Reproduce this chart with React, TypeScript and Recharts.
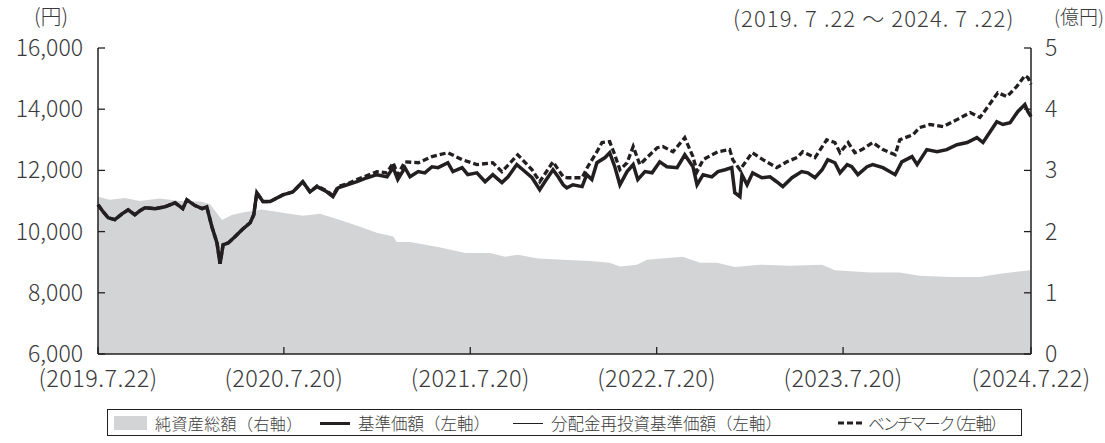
import { Area, ComposedChart, Line, XAxis, YAxis } from "recharts";

const INK = "#231f20";
const TEXT = "#3a3a3a";
const NAV_FILL = "#d3d4d6";
const FONT = "'Noto Sans CJK JP', 'Noto Sans', sans-serif";

// 日数は 2019.7.22 からの経過日数
const xTickDays = [0, 364, 729, 1094, 1459, 1827];
const xTickLabels = ["(2019.7.22)", "(2020.7.20)", "(2021.7.20)", "(2022.7.20)", "(2023.7.20)", "(2024.7.22)"];
const leftTicks = [6000, 8000, 10000, 12000, 14000, 16000];
const rightTicks = [0, 1, 2, 3, 4, 5];

// 基準価額（円）
const fundDays = [
  0, 10, 20, 33, 47, 59, 72, 82, 92, 112, 131, 151, 166, 174, 190, 204, 213, 223, 233, 239, 245, 255, 268, 282, 298,
  305, 311, 323, 337, 362, 382, 401, 415, 429, 448, 460, 470, 488, 507, 527, 546, 566, 578, 587, 601, 611, 627, 640,
  654, 666, 685, 695, 713, 724, 742, 758, 773, 791, 803, 820, 832, 850, 865, 875, 891, 901, 911, 918, 930, 948, 957,
  967, 977, 993, 1002, 1012, 1022, 1036, 1048, 1057, 1071, 1085, 1100, 1114, 1134, 1149, 1165, 1173, 1185, 1202, 1214,
  1228, 1241, 1247, 1257, 1261, 1271, 1282, 1300, 1316, 1329, 1341, 1359, 1378, 1390, 1404, 1418, 1429, 1443, 1453,
  1467, 1476, 1488, 1506, 1517, 1537, 1561, 1574, 1594, 1604, 1623, 1643, 1662, 1682, 1702, 1721, 1733, 1760, 1772,
  1786, 1801, 1815, 1821, 1827,
];
const fundValues = [
  10880, 10650, 10450, 10390, 10580, 10710, 10550, 10680, 10780, 10750, 10810, 10940, 10750, 11040, 10850, 10750, 10810,
  10160, 9630, 8950, 9570, 9630, 9830, 10060, 10290, 10550, 11270, 10980, 10980, 11200, 11300, 11630, 11300, 11470,
  11300, 11140, 11430, 11530, 11630, 11760, 11860, 11790, 12090, 11700, 12090, 11790, 11960, 11920, 12120, 12090, 12250,
  11960, 12090, 11860, 11920, 11630, 11860, 11600, 11790, 12190, 12020, 11760, 11370, 11630, 12020, 11790, 11530, 11430,
  11530, 11470, 11860, 11700, 12250, 12420, 12580, 12120, 11530, 11960, 12190, 11700, 11960, 11920, 12280, 12120, 12090,
  12510, 12120, 11530, 11860, 11790, 11960, 12020, 12090, 11270, 11140, 11860, 11530, 11920, 11760, 11790, 11630, 11470,
  11760, 11960, 11920, 11760, 12020, 12350, 12250, 11920, 12190, 12120, 11860, 12120, 12190, 12090, 11860, 12280, 12450,
  12190, 12680, 12610, 12680, 12840, 12910, 13070, 12910, 13590, 13500, 13560, 13920, 14150, 13920, 13760,
];
// 分配金実績なしのため基準価額と同値
const reinvestValues = fundValues;

// ベンチマーク（円換算）
const benchDays = [
  0, 10, 20, 33, 47, 59, 72, 82, 92, 112, 131, 151, 166, 174, 190, 204, 213, 223, 233, 239, 245, 255, 268, 282, 298,
  305, 311, 323, 337, 362, 382, 401, 415, 429, 448, 460, 470, 488, 507, 527, 546, 566, 578, 587, 601, 627, 654, 685,
  713, 742, 773, 791, 822, 850, 865, 891, 911, 920, 948, 959, 977, 987, 1002, 1012, 1022, 1036, 1048, 1061, 1075, 1095,
  1106, 1126, 1149, 1165, 1173, 1185, 1202, 1214, 1237, 1243, 1257, 1267, 1281, 1302, 1329, 1349, 1369, 1380, 1404,
  1427, 1443, 1453, 1469, 1482, 1496, 1517, 1537, 1561, 1570, 1596, 1609, 1629, 1655, 1682, 1708, 1727, 1743, 1762,
  1780, 1799, 1815, 1821, 1827,
];
const benchValues = [
  10880, 10650, 10450, 10390, 10580, 10710, 10550, 10680, 10780, 10750, 10810, 10940, 10750, 11040, 10850, 10750, 10810,
  10160, 9630, 8950, 9570, 9630, 9830, 10060, 10290, 10550, 11270, 10980, 10980, 11200, 11300, 11630, 11300, 11490,
  11330, 11180, 11470, 11560, 11700, 11830, 11960, 11920, 12250, 11860, 12280, 12250, 12450, 12580, 12350, 12190, 12250,
  11960, 12510, 12020, 11630, 12280, 11790, 11760, 11760, 12120, 12610, 12910, 12940, 12510, 12020, 12250, 12780, 12190,
  12420, 12740, 12780, 12610, 13070, 12450, 11960, 12350, 12510, 12610, 12680, 12350, 12020, 12250, 12580, 12350, 12090,
  12280, 12420, 12610, 12420, 13000, 12910, 12580, 12910, 12580, 12680, 12910, 12680, 12510, 13000, 13170, 13400, 13500,
  13430, 13660, 13890, 13730, 14090, 14540, 14410, 14740, 15100, 15030, 14810,
];

// 純資産総額（億円）
const navDays = [
  0, 23, 53, 82, 121, 161, 200, 219, 243, 262, 288, 321, 362, 401, 435, 474, 513, 546, 578, 585, 611, 666, 719, 768,
  797, 822, 862, 911, 963, 1002, 1022, 1055, 1075, 1145, 1179, 1212, 1247, 1296, 1355, 1418, 1443, 1512, 1570, 1609,
  1668, 1727, 1766, 1795, 1827,
];
const navValues = [
  2.57, 2.52, 2.55, 2.5, 2.54, 2.5, 2.49, 2.45, 2.19, 2.27, 2.32, 2.36, 2.31, 2.26, 2.29, 2.19, 2.08, 1.98, 1.92, 1.83,
  1.83, 1.75, 1.65, 1.65, 1.59, 1.62, 1.56, 1.54, 1.52, 1.49, 1.43, 1.46, 1.54, 1.59, 1.49, 1.49, 1.42, 1.46, 1.44,
  1.46, 1.37, 1.33, 1.33, 1.28, 1.26, 1.26, 1.31, 1.34, 1.37,
];

type Row = { day: number; fund?: number; reinvest?: number; bench?: number; nav?: number };

function buildRows(): Row[] {
  const map = new Map<number, Row>();
  const get = (d: number) => {
    let r = map.get(d);
    if (!r) {
      r = { day: d };
      map.set(d, r);
    }
    return r;
  };
  fundDays.forEach((d, i) => {
    get(d).fund = fundValues[i];
    get(d).reinvest = reinvestValues[i];
  });
  benchDays.forEach((d, i) => (get(d).bench = benchValues[i]));
  navDays.forEach((d, i) => (get(d).nav = navValues[i]));
  return [...map.values()].sort((a, b) => a.day - b.day);
}

const rows = buildRows();

const TICK_LEN = 7;
const Y_MARGIN = 15;
const X_MARGIN = 8;
const textStyle = { fontFeatureSettings: '"palt"' } as const;

function LeftTick({ x, y, payload }: any) {
  const ax = x + Y_MARGIN;
  return (
    <g>
      <line x1={ax} x2={ax + TICK_LEN} y1={y} y2={y} stroke={INK} strokeWidth={1.3} />
      <text x={x} y={y} dy={8} textAnchor="end" fill={TEXT} fontSize={23} fontWeight={300} fontFamily={FONT} style={textStyle}>
        {payload.value.toLocaleString("en-US")}
      </text>
    </g>
  );
}

function RightTick({ x, y, payload }: any) {
  const ax = x - Y_MARGIN;
  return (
    <g>
      <line x1={ax - TICK_LEN} x2={ax} y1={y} y2={y} stroke={INK} strokeWidth={1.3} />
      <text x={ax + 14} y={y} dy={8} textAnchor="start" fill={TEXT} fontSize={23} fontWeight={300} fontFamily={FONT} style={textStyle}>
        {payload.value}
      </text>
    </g>
  );
}

function BottomTick({ x, y, payload, index }: any) {
  const ay = y - X_MARGIN;
  return (
    <g>
      <line x1={x} x2={x} y1={ay - TICK_LEN} y2={ay} stroke={INK} strokeWidth={1.3} />
      <text
        x={x}
        y={ay + 33}
        textAnchor="middle"
        fill={TEXT}
        fontSize={23.5}
        fontWeight={300}
        fontFamily={FONT}
        letterSpacing={0.4}
        style={textStyle}
      >
        {xTickLabels[index] ?? String(payload.value)}
      </text>
    </g>
  );
}

const labelStyle: React.CSSProperties = {
  position: "absolute",
  fontFamily: FONT,
  fontWeight: 300,
  color: TEXT,
  lineHeight: 1,
  whiteSpace: "nowrap",
};
const palt: React.CSSProperties = { fontFeatureSettings: '"palt"' };

export default function App() {
  return (
    <div style={{ position: "absolute", left: 0, top: 0, width: 1105, height: 443, background: "#fff" }}>
      <div style={{ ...labelStyle, ...palt, left: 34, top: 5, fontSize: 21 }}>(円)</div>
      <div style={{ ...labelStyle, ...palt, left: 733, top: 6, fontSize: 22, letterSpacing: 1.1 }}>
        (2019. 7 .22 ～ 2024. 7 .22)
      </div>
      <div style={{ ...labelStyle, ...palt, left: 1054, top: 6, fontSize: 19 }}>(億円)</div>

      <ComposedChart width={1105} height={443} data={rows} margin={{ top: 48, right: 0, bottom: 59, left: 0 }}>
        <XAxis
          dataKey="day"
          type="number"
          domain={[0, 1827]}
          ticks={xTickDays}
          interval={0}
          height={30}
          tickSize={0}
          tickMargin={X_MARGIN}
          tickLine={false}
          axisLine={{ stroke: INK, strokeWidth: 1.5 }}
          tick={<BottomTick />}
        />
        <XAxis
          xAxisId="top"
          orientation="top"
          dataKey="day"
          type="number"
          domain={[0, 1827]}
          height={0}
          tick={false}
          tickLine={false}
          axisLine={{ stroke: INK, strokeWidth: 1.5 }}
        />
        <YAxis
          yAxisId="left"
          domain={[6000, 16000]}
          ticks={leftTicks}
          interval={0}
          width={98}
          tickSize={0}
          tickMargin={Y_MARGIN}
          tickLine={false}
          axisLine={{ stroke: INK, strokeWidth: 1.5 }}
          tick={<LeftTick />}
        />
        <YAxis
          yAxisId="right"
          orientation="right"
          domain={[0, 5]}
          ticks={rightTicks}
          interval={0}
          width={74}
          tickSize={0}
          tickMargin={Y_MARGIN}
          tickLine={false}
          axisLine={{ stroke: INK, strokeWidth: 1.5 }}
          tick={<RightTick />}
        />
        <Area
          yAxisId="right"
          dataKey="nav"
          type="linear"
          fill={NAV_FILL}
          fillOpacity={1}
          stroke="none"
          connectNulls
          isAnimationActive={false}
        />
        <Line
          yAxisId="left"
          dataKey="reinvest"
          type="linear"
          stroke={INK}
          strokeWidth={1.2}
          dot={false}
          connectNulls
          isAnimationActive={false}
        />
        <Line
          yAxisId="left"
          dataKey="bench"
          type="linear"
          stroke={INK}
          strokeWidth={3.3}
          strokeDasharray="6 3"
          dot={false}
          connectNulls
          isAnimationActive={false}
        />
        <Line
          yAxisId="left"
          dataKey="fund"
          type="linear"
          stroke={INK}
          strokeWidth={3.5}
          dot={false}
          connectNulls
          isAnimationActive={false}
        />
      </ComposedChart>

      {/* 凡例 */}
      <div
        style={{
          position: "absolute",
          left: 107,
          top: 409,
          width: 915,
          height: 27,
          border: `1.5px solid ${INK}`,
          boxSizing: "border-box",
        }}
      />
      <div style={{ position: "absolute", left: 114, top: 416, width: 33, height: 14, background: NAV_FILL }} />
      <div style={{ ...labelStyle, left: 155, top: 414.5, fontSize: 16, letterSpacing: 0.4 }}>純資産総額（右軸）</div>
      <div style={{ position: "absolute", left: 320, top: 421.5, width: 30, height: 3, background: INK }} />
      <div style={{ ...labelStyle, left: 358, top: 414.5, fontSize: 16.5 }}>基準価額（左軸）</div>
      <div style={{ position: "absolute", left: 513, top: 422.5, width: 30, height: 1.2, background: INK }} />
      <div style={{ ...labelStyle, left: 551, top: 414.5, fontSize: 16.5 }}>分配金再投資基準価額（左軸）</div>
      <svg style={{ position: "absolute", left: 838, top: 419 }} width={24} height={8}>
        <line x1={0} x2={24} y1={4} y2={4} stroke={INK} strokeWidth={3} strokeDasharray="6 3" />
      </svg>
      <div style={{ ...labelStyle, ...palt, left: 868, top: 414.5, fontSize: 16.5, letterSpacing: -1.2 }}>
        ベンチマーク（左軸）
      </div>
    </div>
  );
}
